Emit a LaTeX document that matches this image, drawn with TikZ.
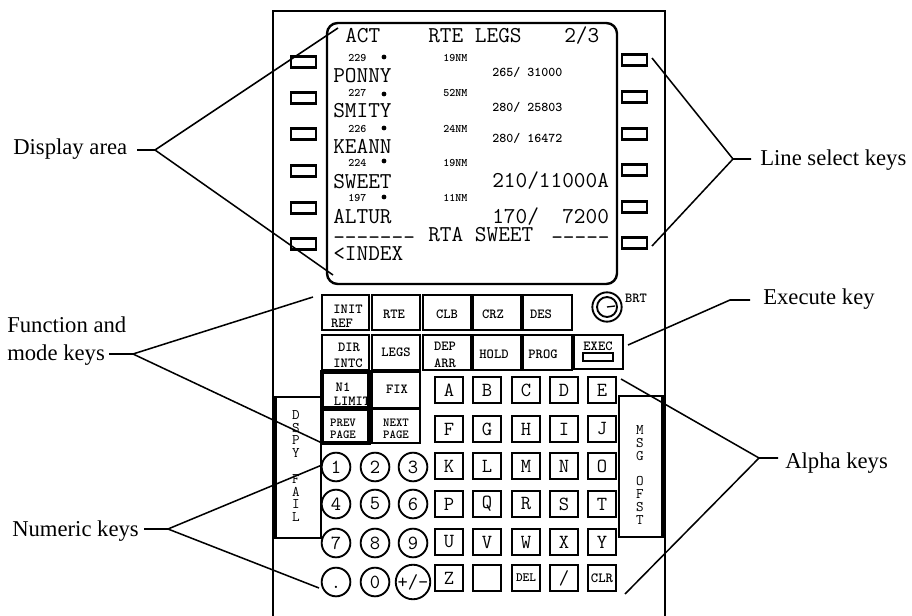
\documentclass[tikz,border=0pt]{standalone}
\usepackage{fontspec}
\setmainfont{Liberation Serif}
\newcommand{\pxfont}[1]{\fontsize{#1}{#1}\selectfont}
\tikzset{
  lead/.style={line width=1.15pt,black},
  capt/.style={inner sep=0pt,anchor=base west,font=\pxfont{17}},
  big/.style={inner sep=0pt,anchor=base west,font=\ttfamily\pxfont{17}},
  val/.style={inner sep=0pt,anchor=base west,font=\ttfamily\bfseries\pxfont{10}},
  tiny/.style={inner sep=0pt,anchor=base west,font=\ttfamily\bfseries\pxfont{8.6}},
  fkeybox/.style={line width=1.7pt,fill=white},
  ftxt/.style={inner sep=0pt,font=\ttfamily\bfseries\pxfont{10.4}},
  ptxt/.style={inner sep=0pt,font=\ttfamily\bfseries\pxfont{9.2}},
  akey/.style={draw,line width=1.7pt,fill=white,minimum width=20.5pt,minimum height=20pt,inner sep=0pt,font=\ttfamily\pxfont{15}},
  nkey/.style={draw,circle,line width=1.4pt,fill=white,minimum size=21.5pt,inner sep=0pt,font=\ttfamily\pxfont{15}},
  lsk/.style={line width=1.8pt},
  side/.style={inner sep=0pt,align=center,font=\ttfamily\pxfont{11}}
}
\begin{document}
\begin{tikzpicture}[x=0.75pt,y=-0.75pt]
\useasboundingbox (0,0) rectangle (912,616);
% frame
\draw[line width=1.2pt] (273,616) -- (273,11) -- (665,11) -- (665,616);
% screen
\draw[line width=1.8pt,rounded corners=8pt] (327,23) rectangle (617,284);
% line select keys
\foreach \y in {62,98,134,171,208,244} \draw[lsk] (291,\y-5.5) rectangle (316,\y+5.5);
\foreach \y in {60,97,134,170,207,243} \draw[lsk] (622,\y-5.5) rectangle (647,\y+5.5);
% screen text
\node[big] (tAct) at (345,43) {ACT};
\node[big] (tTitle) at (428,43) {RTE LEGS};
\node[big] (tPage) at (564,43) {2/3};
\foreach \n/\s/\b/\d/\dy in {a/229/62/57/19NM,b/227/97/94/52NM,c/226/133/128/24NM,d/224/167/161/19NM,e/197/202/197/11NM}{
  \node[tiny] (spd\n) at (348,\b) {\s};
  \fill (384,\d) circle (1.8pt);
  \node[tiny] (dst\n) at (443,\b) {\dy};
}
\node[big] (w1) at (333,83) {PONNY};
\node[big] (w2) at (333,118) {SMITY};
\node[big] (w3) at (333,154) {KEANN};
\node[big] (w4) at (333,189) {SWEET};
\node[big] (w5) at (333,224) {ALTUR};
\node[val] (v1) at (492,77) {265/ 31000};
\node[val] (v2) at (492,112) {280/ 25803};
\node[val] (v3) at (492,143) {280/ 16472};
\node[big] (v4) at (492,188) {210/11000A};
\node[big] (v5) at (492,224) {170/\ \ 7200};
\node[big] (dashL) at (333,245) {-------};
\node[big] (rta) at (428,242) {RTA SWEET};
\node[big] (dashR) at (551,245) {-----};
\node[big] (idx) at (333,261) {<INDEX};
% side panels
\draw[line width=1.4pt,fill=white] (275,397) rectangle (321,538);
\draw[line width=2.8pt] (275,397) -- (275,538);
\draw[line width=1.4pt,fill=white] (619,396) rectangle (663,537);
\draw[line width=2.8pt] (663,396) -- (663,537);
\draw[line width=1.8pt] (619,396) -- (663,396);
\node[side] (dspy) at (296,466) {D\\[-1.4pt]S\\[-1.4pt]P\\[-1.4pt]Y\\[-1.4pt]\strut\\[-1.4pt]F\\[-1.4pt]A\\[-1.4pt]I\\[-1.4pt]L};
\node[side] (msg) at (640,475) {M\\[-1.4pt]S\\[-1.4pt]G\\[-1.4pt]\strut\\[-1.4pt]O\\[-1.4pt]F\\[-1.4pt]S\\[-1.4pt]T};
% function keys
\foreach \xa/\xb/\ya/\yb in {322/369/295/330,372/420/295/330,423/471/295/330,473/521/295/330,523/572/295/330,
  322/369/335/370,372/420/335/370,423/471/335/370,473/521/335/370,523/572/335/370,574/623/335/369,
  372/420/372/408,372/420/409/443}
  \draw[fkeybox] (\xa,\ya) rectangle (\xb,\yb);
\foreach \xa/\xb/\ya/\yb in {322/369/372/408,322/369/409/443}
  \draw[fkeybox,line width=2.3pt] (\xa,\ya) rectangle (\xb,\yb);
\foreach \n/\t/\x/\y in {f1/INIT/348/309,f2/REF/342/323,f3/RTE/394/314,f4/CLB/447/314,f5/CRZ/493/314,f6/DES/541/314,
  f7/DIR/349/347,f8/INTC/348/363,f9/LEGS/396/352,f10/DEP/445/346,f11/ARR/445/363,f12/HOLD/494/354,f13/PROG/543/354,
  f14/EXEC/598/346,f15/N1/343/387,f16/LIMIT/352/401,f17/FIX/397/389}
  \node[ftxt] (\n) at (\x,\y) {\t};
\foreach \n/\t/\x/\y in {f18/PREV/343/423,f19/PAGE/343/435,f20/NEXT/396/423,f21/PAGE/396/435}
  \node[ptxt] (\n) at (\x,\y) {\t};
\draw[line width=1.3pt] (583,353) rectangle (613,361);
% brightness knob
\draw[line width=1.4pt] (607,307) circle (11pt);
\draw[line width=1.4pt] (607,307) circle (7.5pt);
\draw[line width=1pt] (607,307) -- (615,306);
\node[ftxt] (brt) at (636,298) {BRT};
% alpha keys
\foreach \t/\x/\y in {A/449/390,B/487/390,C/526/390,D/564/390,E/602/390,
  F/449/429,G/487/429,H/526/429,I/564/429,J/602/429,
  K/449/466,L/487/466,M/526/466,N/564/466,O/602/466,
  P/449/504,Q/487/504,R/526/504,S/564/504,T/602/504,
  U/449/542,V/487/542,W/526/542,X/564/542,Y/602/542,
  Z/449/578}
  \node[akey] (k\t) at (\x,\y) {\t};
\node[akey] (kBlank) at (487,578) {};
\node[akey,font=\ttfamily\bfseries\pxfont{9.5}] (kDel) at (526,578) {DEL};
\node[akey] (kSlash) at (564,578) {/};
\node[akey,font=\ttfamily\bfseries\pxfont{10.5}] (kClr) at (602,578) {CLR};
% numeric keys
\foreach \t/\x/\y in {1/336/467,2/375/467,3/413/467,4/336/504,5/375/504,6/413/504,7/336/543,8/375/543,9/413/543,0/375/582}
  \node[nkey] (n\t) at (\x,\y) {\t};
\node[nkey] (nDot) at (336,582) {\vphantom{1}.};
\node[nkey] (nSign) at (413,582) {+/-};
% captions
\node[capt] (lDisp) at (13,155) {Display area};
\node[capt] (lFun1) at (7,332) {Function and};
\node[capt] (lFun2) at (7,360) {mode keys};
\node[capt] (lNum) at (12,536) {Numeric keys};
\node[capt] (lLine) at (760,166) {Line select keys};
\node[capt] (lExec) at (763,304) {Execute key};
\node[capt] (lAlpha) at (785,468) {Alpha keys};
% leader points
\coordinate (aDisp) at (155,150);
\coordinate (dDisp) at (137,150);
\coordinate (eDisp1) at (338,28);
\coordinate (eDisp2) at (333,275);
\coordinate (aFun) at (133,354);
\coordinate (dFun) at (109,354);
\coordinate (eFun1) at (313,297);
\coordinate (eFun2) at (322,443);
\coordinate (aNum) at (168,529);
\coordinate (dNum) at (144,529);
\coordinate (eNum1) at (322,465);
\coordinate (eNum2) at (319,588);
\coordinate (aLine) at (733,159);
\coordinate (dLine) at (751,159);
\coordinate (eLine1) at (652,58);
\coordinate (eLine2) at (652,246);
\coordinate (aExec) at (730,300);
\coordinate (dExec) at (750,300);
\coordinate (eExec) at (628,345);
\coordinate (aAlpha) at (759,458);
\coordinate (dAlpha) at (778,458);
\coordinate (eAlpha1) at (621,379);
\coordinate (eAlpha2) at (625,594);
\draw[lead] (dDisp) -- (aDisp) -- (eDisp1);
\draw[lead] (aDisp) -- (eDisp2);
\draw[lead] (dFun) -- (aFun) -- (eFun1);
\draw[lead] (aFun) -- (eFun2);
\draw[lead] (dNum) -- (aNum) -- (eNum1);
\draw[lead] (aNum) -- (eNum2);
\draw[lead] (dLine) -- (aLine) -- (eLine1);
\draw[lead] (aLine) -- (eLine2);
\draw[lead] (dExec) -- (aExec) -- (eExec);
\draw[lead] (dAlpha) -- (aAlpha) -- (eAlpha1);
\draw[lead] (aAlpha) -- (eAlpha2);
\end{tikzpicture}
\end{document}
